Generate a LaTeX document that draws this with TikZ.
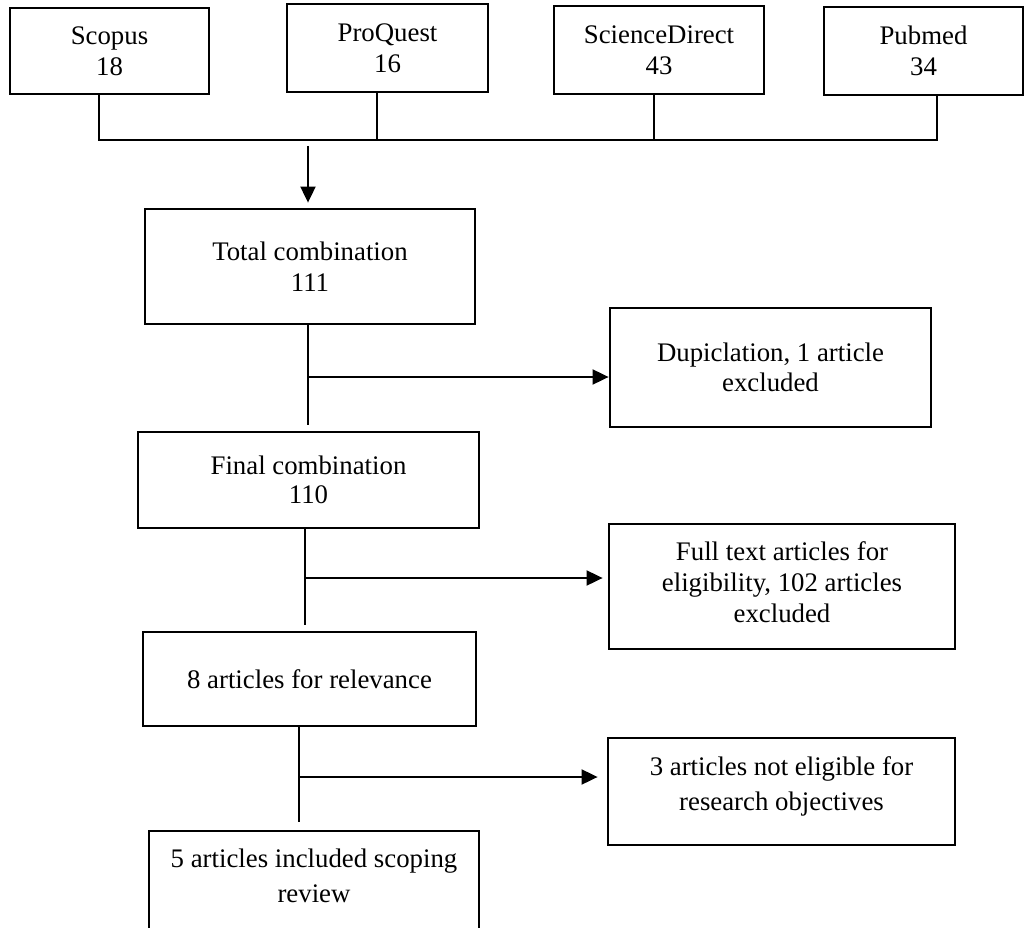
\documentclass[tikz,border=0pt]{standalone}
\usepackage{fontspec}
\setmainfont{Liberation Serif}
\usetikzlibrary{arrows.meta}
\begin{document}
\begin{tikzpicture}[x=1pt,y=-1pt,
  box/.style={draw, line width=2.8pt, align=center, inner sep=0pt, font=\fontsize{26.8}{31}\selectfont},
  wide/.style={font=\fontsize{26.8}{35}\selectfont},
  conn/.style={line width=1.9pt},
  arr/.style={conn, -{Triangle[length=16pt,width=15pt]}}
]
\useasboundingbox (0,0) rectangle (1028,928);
\clip (0,0) rectangle (1028,928);

% source boxes
\node[box, minimum width=199pt, minimum height=86pt] (s1) at (109.5,51) {Scopus\\18};
\node[box, minimum width=201pt, minimum height=88pt] (s2) at (387.5,48) {ProQuest\\16};
\node[box, minimum width=210pt, minimum height=88pt] (s3) at (659,50) {ScienceDirect\\43};
\node[box, minimum width=199pt, minimum height=88pt] (s4) at (923.5,51) {Pubmed\\34};

% main column
\node[box, minimum width=330pt, minimum height=115pt] (tot) at (310,266.5) {Total combination\\111};
\node[box, minimum width=341pt, minimum height=96pt, font=\fontsize{26.8}{29}\selectfont] (fin) at (308.5,480) {Final combination\\110};
\node[box, minimum width=333pt, minimum height=94pt] (rel) at (309.5,679) {8 articles for relevance};
\node[box, wide, minimum width=330pt, minimum height=114pt, text depth=25pt] (inc) at (314,888) {5 articles included scoping\\review};

% exclusion boxes
\node[box, minimum width=321pt, minimum height=119pt, font=\fontsize{26.8}{30}\selectfont] (dup) at (770.5,367.5) {Dupiclation, 1 article\\excluded};
\node[box, minimum width=346pt, minimum height=125pt, text depth=9pt] (ful) at (782,586.5) {Full text articles for\\eligibility, 102 articles\\excluded};
\node[box, wide, minimum width=347pt, minimum height=107pt, text depth=16pt] (noe) at (781.5,791.5) {3 articles not eligible for\\research objectives};

% bus from sources
\coordinate (b1) at (99,140);
\coordinate (b2) at (377,140);
\coordinate (b3) at (654,140);
\coordinate (b4) at (937,140);
\draw[conn] (b1 |- s1.south) -- (b1) -- (b4) -- (b4 |- s4.south);
\draw[conn] (b2 |- s2.south) -- (b2);
\draw[conn] (b3 |- s3.south) -- (b3);
\coordinate (a0) at (308,146);
\draw[arr, shorten >=5pt] (a0) -- (a0 |- tot.north);

% flow with exclusions
\coordinate (j1) at (308,377);
\draw[conn, shorten >=6pt] (j1 |- tot.south) -- (j1 |- fin.north);
\draw[arr] (j1) -- (j1 -| dup.west);

\coordinate (j2) at (305,578);
\draw[conn, shorten >=6pt] (j2 |- fin.south) -- (j2 |- rel.north);
\draw[arr, shorten >=5pt] (j2) -- (j2 -| ful.west);

\coordinate (j3) at (299,777);
\draw[conn, shorten >=8pt] (j3 |- rel.south) -- (j3 |- inc.north);
\draw[arr, shorten >=9pt] (j3) -- (j3 -| noe.west);
\end{tikzpicture}
\end{document}
